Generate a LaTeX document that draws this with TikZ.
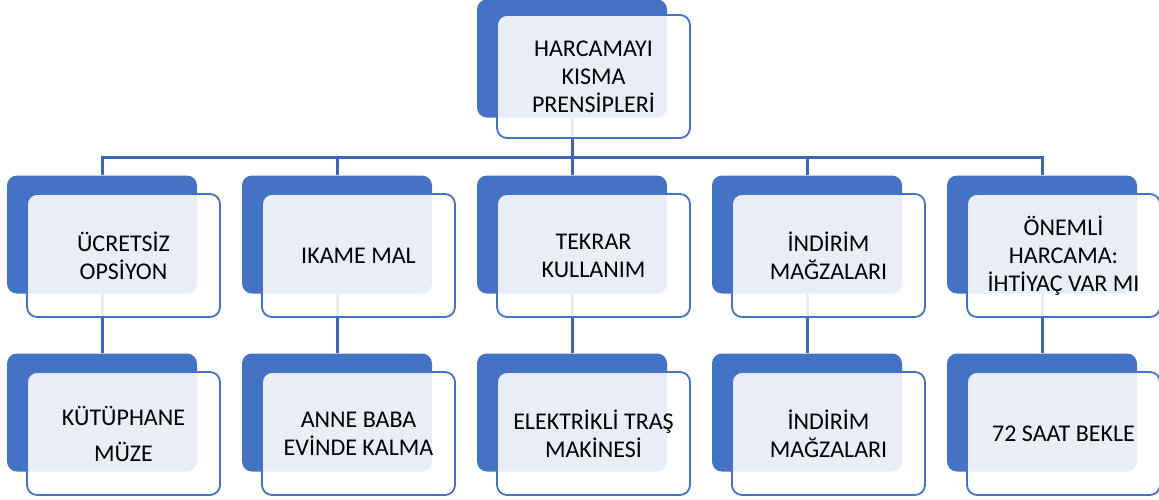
\documentclass[tikz,border=0pt]{standalone}
\usepackage{fontspec}
\setmainfont{Carlito}
\definecolor{ofblue}{HTML}{4472C4}
\definecolor{linkblue}{HTML}{3D67B6}

\begin{document}
\begin{tikzpicture}[x=1pt,y=-1pt,
  back/.style={fill=ofblue, rounded corners=10pt, minimum width=190pt, minimum height=118pt, inner sep=0pt},
  front/.style={draw=ofblue, line width=1.8pt, fill=white, fill opacity=0.88, text opacity=1,
    rounded corners=10pt, minimum width=193pt, minimum height=123pt, inner sep=0pt,
    align=center, font=\fontsize{24}{28}\selectfont},
  link/.style={draw=linkblue, line width=3pt}]
  \useasboundingbox (0,0) rectangle (1159,499);

  \node[back] (btop) at (572,58.5) {};   %Top box
  \node[back] (ba1) at (102,234.5) {};   %Second row
  \node[back] (ba2) at (337,234.5) {};
  \node[back] (ba3) at (572,234.5) {};
  \node[back] (ba4) at (807,234.5) {};
  \node[back] (ba5) at (1042,234.5) {};
  \node[back] (bb1) at (102,412.5) {};   %Third row
  \node[back] (bb2) at (337,412.5) {};
  \node[back] (bb3) at (572,412.5) {};
  \node[back] (bb4) at (807,412.5) {};
  \node[back] (bb5) at (1042,412.5) {};

  \coordinate (bus) at (572,157) ;       %Branch line
  \draw[link] (btop.south) -- (bus);
  \draw[link] (ba1.north) |- (bus);
  \draw[link] (ba2.north) |- (bus);
  \draw[link] (ba3.north) -- (bus);
  \draw[link] (ba4.north) |- (bus);
  \draw[link] (ba5.north) |- (bus);
  \draw[link] (ba1.south) -- (bb1.north);
  \draw[link] (ba2.south) -- (bb2.north);
  \draw[link] (ba3.south) -- (bb3.north);
  \draw[link] (ba4.south) -- (bb4.north);
  \draw[link] (ba5.south) -- (bb5.north);

  \node[front] (ftop) at (593.5,76.5) {HARCAMAYI\\KISMA\\PRENSİPLERİ};
  \node[front] (fa1) at (123.5,255.5) {ÜCRETSİZ\\OPSİYON};
  \node[front] (fa2) at (358.5,255.5) {IKAME MAL};
  \node[front] (fa3) at (593.5,255.5) {TEKRAR\\KULLANIM};
  \node[front] (fa4) at (828.5,255.5) {İNDİRİM\\MAĞZALARI};
  \node[front] (fa5) at (1063.5,255.5) {ÖNEMLİ\\HARCAMA:\\İHTİYAÇ VAR MI};
  \node[front] (fb1) at (123.5,433.5) {KÜTÜPHANE\\[8pt]MÜZE};
  \node[front] (fb2) at (358.5,433.5) {ANNE BABA\\EVİNDE KALMA};
  \node[front] (fb3) at (593.5,433.5) {ELEKTRİKLİ TRAŞ\\MAKİNESİ};
  \node[front] (fb4) at (828.5,433.5) {İNDİRİM\\MAĞZALARI};
  \node[front] (fb5) at (1063.5,433.5) {72 SAAT BEKLE};
\end{tikzpicture}
\end{document}
